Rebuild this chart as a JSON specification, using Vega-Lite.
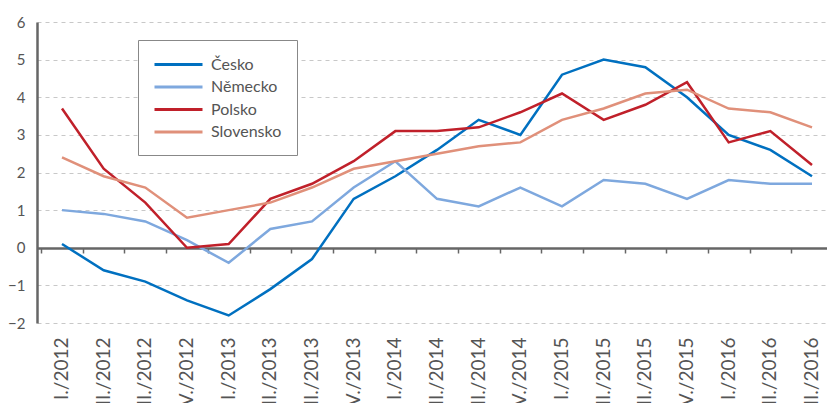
{
  "$schema": "https://vega.github.io/schema/vega-lite/v6.json",
  "autosize": "none",
  "width": 790,
  "height": 301,
  "padding": {"left": 37, "top": 22, "right": 0, "bottom": 80},
  "background": "white",
  "config": {
    "view": {"stroke": null},
    "font": "Lato"
  },
  "data": {
    "values": [
      {"obdobi": "I./2012", "zeme": "Česko", "hodnota": 0.1},
      {"obdobi": "II./2012", "zeme": "Česko", "hodnota": -0.6},
      {"obdobi": "III./2012", "zeme": "Česko", "hodnota": -0.9},
      {"obdobi": "IV./2012", "zeme": "Česko", "hodnota": -1.4},
      {"obdobi": "I./2013", "zeme": "Česko", "hodnota": -1.8},
      {"obdobi": "II./2013", "zeme": "Česko", "hodnota": -1.1},
      {"obdobi": "III./2013", "zeme": "Česko", "hodnota": -0.3},
      {"obdobi": "IV./2013", "zeme": "Česko", "hodnota": 1.3},
      {"obdobi": "I./2014", "zeme": "Česko", "hodnota": 1.9},
      {"obdobi": "II./2014", "zeme": "Česko", "hodnota": 2.6},
      {"obdobi": "III./2014", "zeme": "Česko", "hodnota": 3.4},
      {"obdobi": "IV./2014", "zeme": "Česko", "hodnota": 3.0},
      {"obdobi": "I./2015", "zeme": "Česko", "hodnota": 4.6},
      {"obdobi": "II./2015", "zeme": "Česko", "hodnota": 5.0},
      {"obdobi": "III./2015", "zeme": "Česko", "hodnota": 4.8},
      {"obdobi": "IV./2015", "zeme": "Česko", "hodnota": 4.0},
      {"obdobi": "I./2016", "zeme": "Česko", "hodnota": 3.0},
      {"obdobi": "II./2016", "zeme": "Česko", "hodnota": 2.6},
      {"obdobi": "III./2016", "zeme": "Česko", "hodnota": 1.9},

      {"obdobi": "I./2012", "zeme": "Německo", "hodnota": 1.0},
      {"obdobi": "II./2012", "zeme": "Německo", "hodnota": 0.9},
      {"obdobi": "III./2012", "zeme": "Německo", "hodnota": 0.7},
      {"obdobi": "IV./2012", "zeme": "Německo", "hodnota": 0.2},
      {"obdobi": "I./2013", "zeme": "Německo", "hodnota": -0.4},
      {"obdobi": "II./2013", "zeme": "Německo", "hodnota": 0.5},
      {"obdobi": "III./2013", "zeme": "Německo", "hodnota": 0.7},
      {"obdobi": "IV./2013", "zeme": "Německo", "hodnota": 1.6},
      {"obdobi": "I./2014", "zeme": "Německo", "hodnota": 2.3},
      {"obdobi": "II./2014", "zeme": "Německo", "hodnota": 1.3},
      {"obdobi": "III./2014", "zeme": "Německo", "hodnota": 1.1},
      {"obdobi": "IV./2014", "zeme": "Německo", "hodnota": 1.6},
      {"obdobi": "I./2015", "zeme": "Německo", "hodnota": 1.1},
      {"obdobi": "II./2015", "zeme": "Německo", "hodnota": 1.8},
      {"obdobi": "III./2015", "zeme": "Německo", "hodnota": 1.7},
      {"obdobi": "IV./2015", "zeme": "Německo", "hodnota": 1.3},
      {"obdobi": "I./2016", "zeme": "Německo", "hodnota": 1.8},
      {"obdobi": "II./2016", "zeme": "Německo", "hodnota": 1.7},
      {"obdobi": "III./2016", "zeme": "Německo", "hodnota": 1.7},

      {"obdobi": "I./2012", "zeme": "Polsko", "hodnota": 3.7},
      {"obdobi": "II./2012", "zeme": "Polsko", "hodnota": 2.1},
      {"obdobi": "III./2012", "zeme": "Polsko", "hodnota": 1.2},
      {"obdobi": "IV./2012", "zeme": "Polsko", "hodnota": 0.0},
      {"obdobi": "I./2013", "zeme": "Polsko", "hodnota": 0.1},
      {"obdobi": "II./2013", "zeme": "Polsko", "hodnota": 1.3},
      {"obdobi": "III./2013", "zeme": "Polsko", "hodnota": 1.7},
      {"obdobi": "IV./2013", "zeme": "Polsko", "hodnota": 2.3},
      {"obdobi": "I./2014", "zeme": "Polsko", "hodnota": 3.1},
      {"obdobi": "II./2014", "zeme": "Polsko", "hodnota": 3.1},
      {"obdobi": "III./2014", "zeme": "Polsko", "hodnota": 3.2},
      {"obdobi": "IV./2014", "zeme": "Polsko", "hodnota": 3.6},
      {"obdobi": "I./2015", "zeme": "Polsko", "hodnota": 4.1},
      {"obdobi": "II./2015", "zeme": "Polsko", "hodnota": 3.4},
      {"obdobi": "III./2015", "zeme": "Polsko", "hodnota": 3.8},
      {"obdobi": "IV./2015", "zeme": "Polsko", "hodnota": 4.4},
      {"obdobi": "I./2016", "zeme": "Polsko", "hodnota": 2.8},
      {"obdobi": "II./2016", "zeme": "Polsko", "hodnota": 3.1},
      {"obdobi": "III./2016", "zeme": "Polsko", "hodnota": 2.2},

      {"obdobi": "I./2012", "zeme": "Slovensko", "hodnota": 2.4},
      {"obdobi": "II./2012", "zeme": "Slovensko", "hodnota": 1.9},
      {"obdobi": "III./2012", "zeme": "Slovensko", "hodnota": 1.6},
      {"obdobi": "IV./2012", "zeme": "Slovensko", "hodnota": 0.8},
      {"obdobi": "I./2013", "zeme": "Slovensko", "hodnota": 1.0},
      {"obdobi": "II./2013", "zeme": "Slovensko", "hodnota": 1.2},
      {"obdobi": "III./2013", "zeme": "Slovensko", "hodnota": 1.6},
      {"obdobi": "IV./2013", "zeme": "Slovensko", "hodnota": 2.1},
      {"obdobi": "I./2014", "zeme": "Slovensko", "hodnota": 2.3},
      {"obdobi": "II./2014", "zeme": "Slovensko", "hodnota": 2.5},
      {"obdobi": "III./2014", "zeme": "Slovensko", "hodnota": 2.7},
      {"obdobi": "IV./2014", "zeme": "Slovensko", "hodnota": 2.8},
      {"obdobi": "I./2015", "zeme": "Slovensko", "hodnota": 3.4},
      {"obdobi": "II./2015", "zeme": "Slovensko", "hodnota": 3.7},
      {"obdobi": "III./2015", "zeme": "Slovensko", "hodnota": 4.1},
      {"obdobi": "IV./2015", "zeme": "Slovensko", "hodnota": 4.2},
      {"obdobi": "I./2016", "zeme": "Slovensko", "hodnota": 3.7},
      {"obdobi": "II./2016", "zeme": "Slovensko", "hodnota": 3.6},
      {"obdobi": "III./2016", "zeme": "Slovensko", "hodnota": 3.2}
    ]
  },
  "resolve": {"axis": {"x": "independent"}},
  "layer": [
    {
      "mark": {"type": "point", "opacity": 0},
      "encoding": {
        "x": {
          "field": "obdobi", "type": "ordinal", "sort": null,
          "scale": {"type": "band", "paddingInner": 0, "paddingOuter": 0.1, "range": [0, 800]},
          "axis": {
            "orient": "bottom", "offset": -75, "title": null, "labels": false,
            "domain": true, "domainColor": "#666666", "domainWidth": 2.5,
            "ticks": true, "tickBand": "extent", "tickSize": 5, "tickColor": "#666666", "tickWidth": 1.5,
            "grid": false
          }
        },
        "y": {
          "field": "hodnota", "type": "quantitative",
          "scale": {"domain": [-2, 6], "nice": false, "zero": false},
          "axis": {
            "title": null, "values": [-2, -1, 0, 1, 2, 3, 4, 5, 6],
            "labelFont": "Lato", "labelFontSize": 15, "labelPadding": 12, "labelColor": "#555555", "labelOverlap": false,
            "domain": true, "domainColor": "#666666", "domainWidth": 2.5,
            "ticks": false,
            "grid": true, "gridColor": "#c8c8c8", "gridDash": [4, 4], "gridWidth": 1
          }
        }
      }
    },
    {
      "mark": {"type": "line", "strokeWidth": 2.5},
      "encoding": {
        "x": {
          "field": "obdobi", "type": "ordinal", "sort": null,
          "axis": {
            "orient": "bottom", "title": null, "labelAngle": -90, "labelAlign": "right",
            "labelBaseline": "middle", "labelFontSize": 19, "labelFont": "Lato", "labelPadding": 14,
            "labelColor": "#555555", "labelOverlap": false, "labelBound": false,
            "domain": false, "ticks": false, "grid": false
          }
        },
        "y": {
          "field": "hodnota", "type": "quantitative",
          "scale": {"domain": [-2, 6], "nice": false, "zero": false},
          "axis": {
            "title": null, "values": [-2, -1, 0, 1, 2, 3, 4, 5, 6],
            "labelFont": "Lato", "labelFontSize": 15, "labelPadding": 12, "labelColor": "#555555", "labelOverlap": false,
            "domain": true, "domainColor": "#666666", "domainWidth": 2.5,
            "ticks": false,
            "grid": true, "gridColor": "#c8c8c8", "gridDash": [4, 4], "gridWidth": 1
          }
        },
        "color": {
          "field": "zeme", "type": "nominal",
          "scale": {
            "domain": ["Česko", "Německo", "Polsko", "Slovensko"],
            "range": ["#0070C0", "#7EA8DE", "#C0202A", "#E0907A"]
          },
          "legend": {
            "title": null, "orient": "none", "legendX": 101, "legendY": 18,
            "direction": "vertical",
            "strokeColor": "#888888", "fillColor": "white", "padding": 15,
            "symbolType": "M-1,0H5", "symbolSize": 256, "symbolStrokeWidth": 3,
            "labelFontSize": 16, "labelColor": "#555555", "labelOffset": 39,
            "rowPadding": 4.5, "labelFont": "Lato"
          }
        }
      }
    }
  ]
}
